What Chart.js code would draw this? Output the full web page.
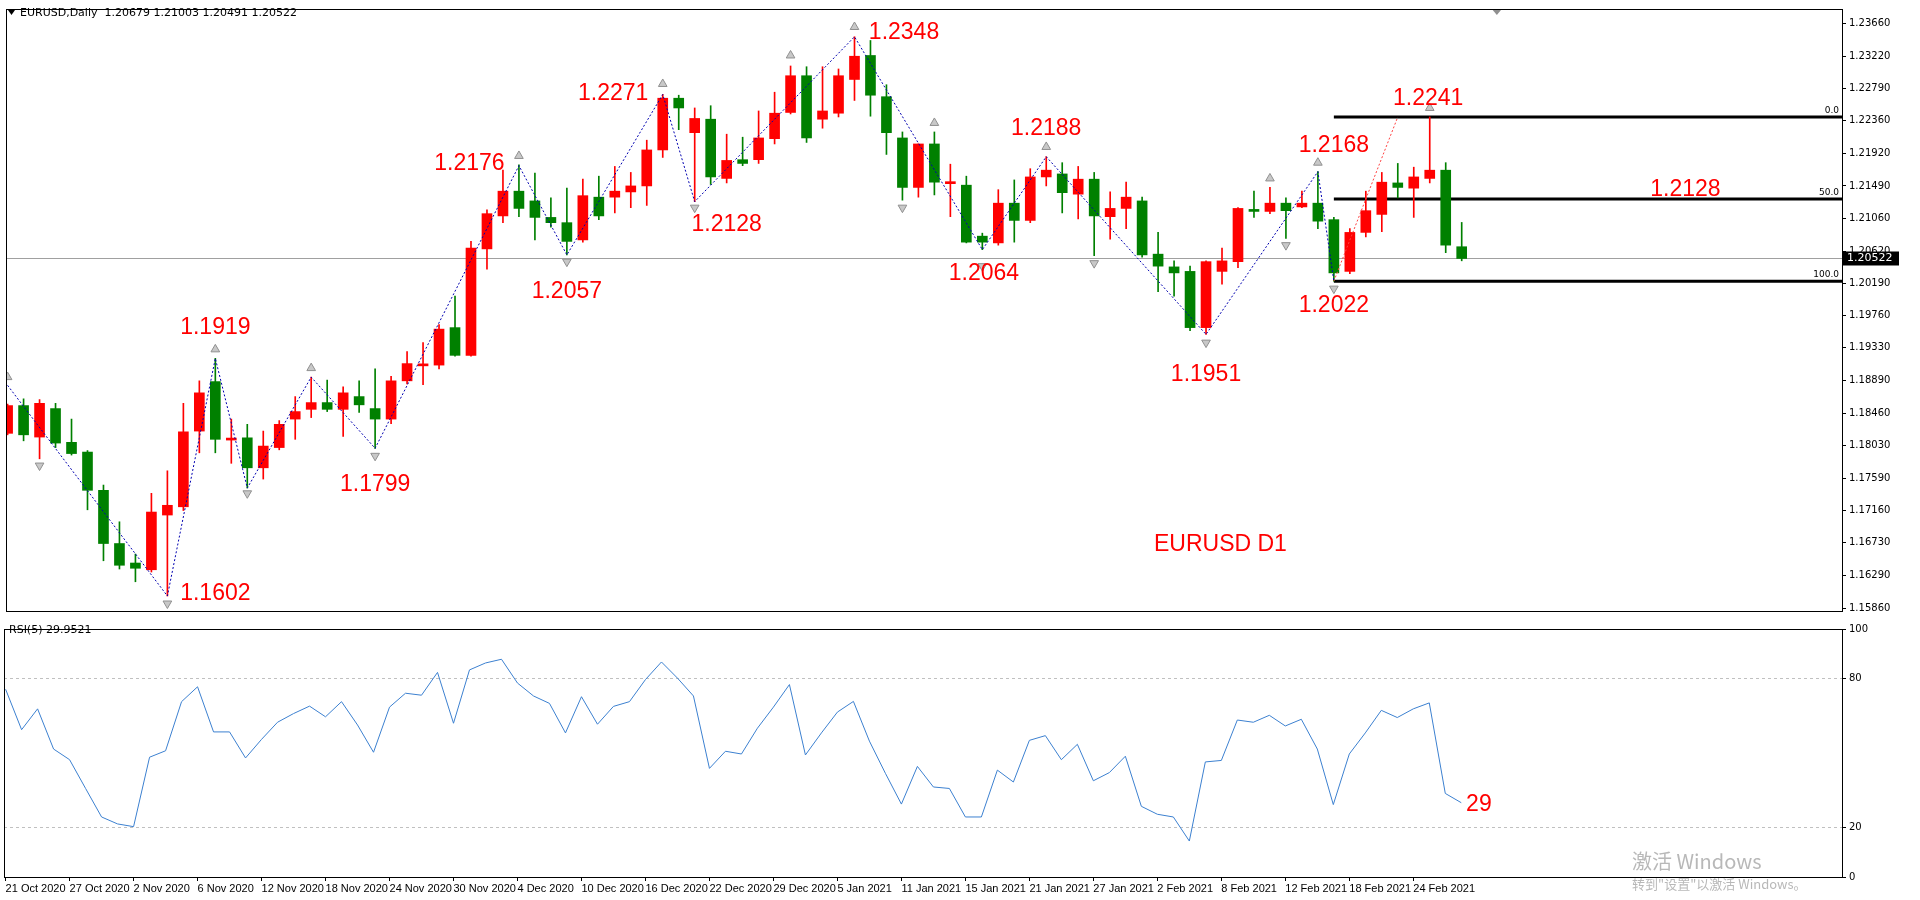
<!DOCTYPE html>
<html>
<head>
<meta charset="utf-8">
<script src="https://cdn.jsdelivr.net/npm/chart.js@4"></script>
<style>
  body { margin: 0; background: #fff; width: 1920px; height: 900px; overflow: hidden; position: relative; }
  canvas { position: absolute; left: 0; }
  #price { top: 0; }
  #rsi { top: 620px; }
  .wm { position: absolute; color: #b8b8b8; font-family: "Noto Sans CJK SC", "Liberation Sans", sans-serif; }
</style>
</head>
<body>
<canvas id="price" width="1920" height="620"></canvas>
<canvas id="rsi" width="1920" height="280"></canvas>
<div class="wm" style="left:1632px;top:846px;font-size:20px;">激活 Windows</div>
<div class="wm" style="left:1632px;top:874px;font-size:13px;">转到"设置"以激活 Windows。</div>
<script>
// daily EURUSD bars, 21 Oct 2020 .. 1 Mar 2021 (index 0..91)
const opens = [1.1819,1.1856,1.1814,1.1852,1.1807,1.1794,1.1743,1.1672,1.1646,1.1637,
  1.1710,1.1721,1.1822,1.1888,1.1810,1.1813,1.1773,1.1800,1.1838,1.1851,
  1.1860,1.1851,1.1868,1.1852,1.1838,1.1889,1.1909,1.1910,1.1960,1.1923,
  1.2065,1.2109,1.2142,1.2129,1.2107,1.2100,1.2077,1.2134,1.2134,1.2141,
  1.2149,1.2197,1.2266,1.2220,1.2238,1.2159,1.2184,1.2184,1.2212,1.2247,
  1.2296,1.2238,1.2246,1.2291,1.2323,1.2268,1.2213,1.2147,1.2205,1.2152,
  1.2150,1.2082,1.2073,1.2126,1.2103,1.2161,1.2165,1.2138,1.2158,1.2108,
  1.2119,1.2129,1.2058,1.2041,1.2035,1.1960,1.2035,1.2048,1.2116,1.2115,
  1.2126,1.2121,1.2126,1.2104,1.2035,1.2087,1.2111,1.2153,1.2146,1.2159,
  1.2170,1.20679];
const highs = [1.1858,1.1865,1.1864,1.1859,1.1838,1.1796,1.1750,1.1701,1.1658,1.1739,
  1.1769,1.1859,1.1889,1.1919,1.1838,1.1831,1.1822,1.1836,1.1868,1.1894,
  1.1890,1.1881,1.1889,1.1905,1.1895,1.1928,1.1940,1.1964,1.2002,1.2075,
  1.2117,1.2170,1.2177,1.2166,1.2133,1.2146,1.2158,1.2162,1.2175,1.2167,
  1.2210,1.2271,1.2270,1.2253,1.2256,1.2218,1.2214,1.2249,1.2274,1.2309,
  1.2308,1.2308,1.2305,1.2348,1.2343,1.2284,1.2221,1.2205,1.2221,1.2178,
  1.2162,1.2086,1.2144,1.2157,1.2172,1.2188,1.2180,1.2175,1.2167,1.2141,
  1.2154,1.2134,1.2087,1.2049,1.2042,1.2049,1.2066,1.2120,1.2142,1.2147,
  1.2133,1.2142,1.2168,1.2107,1.2092,1.2142,1.2167,1.2179,1.2174,1.2241,
  1.2180,1.21003];
const lows = [1.1817,1.1809,1.1785,1.1800,1.1790,1.1717,1.1649,1.1638,1.1621,1.1634,
  1.1602,1.1716,1.1793,1.1793,1.1779,1.1746,1.1758,1.1797,1.1811,1.1840,
  1.1848,1.1815,1.1847,1.1799,1.1832,1.1885,1.1884,1.1905,1.1922,1.1922,
  1.2038,1.2100,1.2108,1.2077,1.2094,1.2057,1.2074,1.2104,1.2113,1.2120,
  1.2123,1.2187,1.2224,1.2128,1.2151,1.2153,1.2176,1.2179,1.2205,1.2245,
  1.2207,1.2226,1.2241,1.2263,1.2242,1.2191,1.2130,1.2134,1.2137,1.2108,
  1.2073,1.2064,1.2070,1.2074,1.2100,1.2149,1.2113,1.2105,1.2056,1.2078,
  1.2092,1.2054,1.2008,1.2002,1.1956,1.1951,1.2018,1.2040,1.2107,1.2112,
  1.2079,1.2120,1.2092,1.2022,1.2032,1.2081,1.2088,1.2133,1.2107,1.2153,
  1.2060,1.20491];
const closes = [1.1856,1.1817,1.1859,1.1806,1.1792,1.1743,1.1672,1.1643,1.1639,1.1714,
  1.1723,1.1821,1.1873,1.1811,1.1812,1.1773,1.1802,1.1831,1.1848,1.1860,
  1.1851,1.1873,1.1857,1.1838,1.1889,1.1912,1.1911,1.1958,1.1923,1.2066,
  1.2112,1.2142,1.2119,1.2107,1.2100,1.2075,1.2136,1.2109,1.2142,1.2149,
  1.2197,1.2266,1.2253,1.2239,1.2161,1.2183,1.2179,1.2213,1.2246,1.2296,
  1.2213,1.2249,1.2296,1.2322,1.2270,1.2220,1.2147,1.2205,1.2154,1.2154,
  1.2074,1.2074,1.2126,1.2103,1.2161,1.2170,1.2140,1.2158,1.2109,1.2119,
  1.2134,1.2057,1.2042,1.2033,1.1960,1.2048,1.2049,1.2119,1.2115,1.2126,
  1.2116,1.2126,1.2102,1.2033,1.2087,1.2116,1.2154,1.2147,1.2161,1.2170,
  1.2070,1.20522];

const rsiValues = [75.7,59.4,67.8,51.6,47.3,35.7,24.2,21.4,20.3,48.3,
  50.9,70.7,76.7,58.5,58.5,48.0,55.5,62.4,65.9,68.9,
  64.6,70.7,61.3,50.3,68.5,74.1,73.3,82.5,62.0,83.5,
  86.3,87.8,78.2,73.0,70.0,58.1,72.7,61.6,68.8,70.7,
  79.6,86.7,80.2,73.0,43.8,50.7,49.6,60.0,68.5,77.6,
  49.2,58.1,66.5,70.8,54.8,41.8,29.4,44.6,36.3,35.7,
  24.2,24.2,43.1,38.3,55.1,57.0,47.3,53.5,38.8,42.1,
  48.7,28.5,25.3,24.2,14.5,46.4,47.0,63.3,62.4,65.2,
  60.9,63.6,51.6,29.2,49.6,58.1,67.2,64.3,67.8,70.2,
  33.7,29.95];

const dateLabels = ["21 Oct 2020","27 Oct 2020","2 Nov 2020","6 Nov 2020","12 Nov 2020","18 Nov 2020",
  "24 Nov 2020","30 Nov 2020","4 Dec 2020","10 Dec 2020","16 Dec 2020","22 Dec 2020","29 Dec 2020",
  "5 Jan 2021","11 Jan 2021","15 Jan 2021","21 Jan 2021","27 Jan 2021","2 Feb 2021","8 Feb 2021",
  "12 Feb 2021","18 Feb 2021","24 Feb 2021"];
const priceTicks = [1.23660,1.23220,1.22790,1.22360,1.21920,1.21490,1.21060,1.20620,1.20190,1.19760,
  1.19330,1.18890,1.18460,1.18030,1.17590,1.17160,1.16730,1.16290,1.15860];
const rsiTicks = [100, 80, 20, 0];

// zigzag pivots [bar, price]
const zigzag = [[0,1.1883],[10,1.1602],[13,1.1919],[15,1.1746],[19,1.1894],[23,1.1799],[32,1.2176],
  [35,1.2057],[41,1.2271],[43,1.2128],[53,1.2348],[61,1.2064],[65,1.2188],[75,1.1951],[82,1.2168],[83,1.2022]];
const zigzagLast = [[83,1.2022],[87,1.2241]];
const fractalUp = [[0,1.1894],[13,1.1931],[19,1.1906],[32,1.2189],[41,1.2285],[49,1.2323],[53,1.2361],
  [58,1.2233],[65,1.2201],[79,1.2159],[82,1.2180],[89,1.2253]];
const fractalDown = [[2,1.1776],[10,1.1592],[15,1.1739],[23,1.1789],[35,1.2048],[43,1.2120],[56,1.2120],
  [61,1.2042],[68,1.2046],[75,1.1940],[80,1.2070],[83,1.2012]];

// red annotation texts [text, bar, price]
const pivotLabels = [["1.1919",13,1.1960],["1.1602",13,1.1605],["1.1799",23,1.1750],["1.2176",28.9,1.2179],
  ["1.2057",35,1.2008],["1.2271",37.9,1.2272],["1.2128",45,1.2098],["1.2348",56.1,1.2354],
  ["1.2064",61.1,1.2032],["1.2188",65,1.2226],["1.2168",83,1.2203],["1.1951",75,1.1897],
  ["1.2022",83,1.1989],["1.2241",88.9,1.2266],["1.2128",105,1.2144],["EURUSD D1",75.9,1.1671]];
const fibLevels = [["0.0",1.2241],["50.0",1.21315],["100.0",1.2022]];
const fibStart = 83;
const lastPrice = 1.20522;

const idx = closes.map((_, i) => i);
const up = idx.map(i => closes[i] >= opens[i]);
const candleColors = up.map(u => u ? "#ff0000" : "#008000");
const X_MIN = -0.1, X_MAX = 114.8;

const frame = {
  id: "frame",
  afterDraw(chart) {
    const { ctx, chartArea: a } = chart;
    ctx.save();
    ctx.strokeStyle = "#000";
    ctx.lineWidth = 1;
    ctx.strokeRect(a.left + 0.5, a.top + 0.5, a.right - a.left, a.bottom - a.top);
    ctx.restore();
  }
};

const priceExtras = {
  id: "priceExtras",
  beforeDatasetsDraw(chart) {
    const { ctx, chartArea: a, scales: { x, y } } = chart;
    ctx.save();
    // current price line
    ctx.strokeStyle = "#a0a0a0";
    ctx.lineWidth = 1;
    const py = Math.round(y.getPixelForValue(lastPrice)) + 0.5;
    ctx.beginPath(); ctx.moveTo(a.left, py); ctx.lineTo(a.right, py); ctx.stroke();
    // fibo levels
    ctx.strokeStyle = "#000";
    ctx.lineWidth = 3;
    ctx.font = '9px "DejaVu Sans"';
    ctx.fillStyle = "#000";
    ctx.textAlign = "right";
    ctx.textBaseline = "bottom";
    fibLevels.forEach(([t, v]) => {
      const ly = y.getPixelForValue(v);
      ctx.beginPath(); ctx.moveTo(x.getPixelForValue(fibStart), ly); ctx.lineTo(a.right, ly); ctx.stroke();
      ctx.fillText(t, a.right - 3, ly - 2);
    });
    ctx.restore();
  },
  afterDraw(chart) {
    const { ctx, chartArea: a, scales: { x, y } } = chart;
    ctx.save();
    ctx.fillStyle = "#ff0000";
    ctx.font = '23px "Liberation Sans"';
    ctx.textAlign = "center";
    ctx.textBaseline = "middle";
    pivotLabels.forEach(([t, b, v]) => ctx.fillText(t, x.getPixelForValue(b), y.getPixelForValue(v)));
    // header
    ctx.fillStyle = "#000";
    ctx.font = '11px "DejaVu Sans"';
    ctx.textAlign = "left";
    ctx.fillText("EURUSD,Daily  1.20679 1.21003 1.20491 1.20522", 20, 13);
    ctx.beginPath(); ctx.moveTo(8, 10); ctx.lineTo(15, 10); ctx.lineTo(11.5, 15); ctx.fill();
    // chart shift marker
    const sx = x.getPixelForValue(93.2);
    ctx.fillStyle = "#909090";
    ctx.beginPath(); ctx.moveTo(sx - 5, a.top); ctx.lineTo(sx + 5, a.top); ctx.lineTo(sx, a.top + 6); ctx.fill();
    // last price tag
    const py = y.getPixelForValue(lastPrice);
    ctx.fillStyle = "#000";
    ctx.fillRect(a.right + 1, py - 7, 56, 14);
    ctx.fillStyle = "#fff";
    ctx.fillText("1.20522", a.right + 5, py);
    ctx.restore();
  }
};

new Chart(document.getElementById("price"), {
  type: "bar",
  data: {
    datasets: [
      {
        label: "wicks",
        data: idx.map(i => ({ x: i, y: [lows[i], highs[i]] })),
        backgroundColor: candleColors,
        barThickness: 1,
        grouped: false,
        order: 2,
      },
      {
        label: "bodies",
        data: idx.map(i => ({ x: i, y: [Math.min(opens[i], closes[i]), Math.max(opens[i], closes[i])] })),
        backgroundColor: candleColors,
        barThickness: 10,
        minBarLength: 2,
        grouped: false,
        order: 1,
      },
      {
        type: "line",
        label: "zigzag",
        data: zigzag.map(([b, v]) => ({ x: b, y: v })),
        borderColor: "#0000b0",
        borderWidth: 1,
        borderDash: [2, 2],
        pointRadius: 0,
        order: 0,
      },
      {
        type: "line",
        label: "zigzag last",
        data: zigzagLast.map(([b, v]) => ({ x: b, y: v })),
        borderColor: "#ff4040",
        borderWidth: 1,
        borderDash: [2, 2],
        pointRadius: 0,
        order: 0,
      },
      {
        type: "line",
        label: "fractal up",
        data: fractalUp.map(([b, v]) => ({ x: b, y: v })),
        showLine: false,
        pointStyle: "triangle",
        pointRadius: 5,
        backgroundColor: "#c8c8c8",
        borderColor: "#909090",
        borderWidth: 1,
        order: 0,
      },
      {
        type: "line",
        label: "fractal down",
        data: fractalDown.map(([b, v]) => ({ x: b, y: v })),
        showLine: false,
        pointStyle: "triangle",
        rotation: 180,
        pointRadius: 5,
        backgroundColor: "#c8c8c8",
        borderColor: "#909090",
        borderWidth: 1,
        order: 0,
      },
    ],
  },
  options: {
    responsive: false,
    animation: false,
    devicePixelRatio: 1,
    layout: { padding: { left: 4, top: 6, right: 0, bottom: 2 } },
    plugins: { legend: { display: false }, tooltip: { enabled: false } },
    scales: {
      x: { type: "linear", min: X_MIN, max: X_MAX, offset: false, display: false },
      y: {
        position: "right",
        min: 1.1582,
        max: 1.2385,
        afterFit: s => { s.width = 78; },
        afterBuildTicks: s => { s.ticks = priceTicks.map(v => ({ value: v })); },
        ticks: { callback: v => v.toFixed(5), color: "#000", font: { family: "DejaVu Sans", size: 10 }, padding: 3 },
        grid: { drawOnChartArea: false, tickLength: 4, color: "#000" },
        border: { color: "#000" },
      },
    },
  },
  plugins: [priceExtras, frame],
});

const rsiExtras = {
  id: "rsiExtras",
  afterDraw(chart) {
    const { ctx, scales: { x, y } } = chart;
    ctx.save();
    ctx.fillStyle = "#000";
    ctx.font = '11px "DejaVu Sans"';
    ctx.textBaseline = "middle";
    ctx.fillText("RSI(5) 29.9521", 9, 10);
    ctx.fillStyle = "#ff0000";
    ctx.font = '23px "Liberation Sans"';
    ctx.textAlign = "center";
    ctx.fillText("29", x.getPixelForValue(92.1), y.getPixelForValue(29.3));
    ctx.restore();
  }
};

new Chart(document.getElementById("rsi"), {
  type: "line",
  data: {
    datasets: [{
      label: "RSI(5)",
      data: idx.map(i => ({ x: i, y: rsiValues[i] })),
      borderColor: "#3c80d0",
      borderWidth: 1,
      pointRadius: 0,
      tension: 0,
    }],
  },
  options: {
    responsive: false,
    animation: false,
    devicePixelRatio: 1,
    layout: { padding: { left: 4, top: 1, right: 0, bottom: 0 } },
    plugins: { legend: { display: false }, tooltip: { enabled: false } },
    scales: {
      x: {
        type: "linear",
        min: X_MIN,
        max: X_MAX,
        afterFit: s => { s.height = 23; },
        afterBuildTicks: s => { s.ticks = dateLabels.map((_, k) => ({ value: k * 4 })); },
        ticks: {
          callback: v => dateLabels[v / 4],
          align: "start",
          maxRotation: 0,
          autoSkip: false,
          color: "#000",
          font: { family: "Liberation Sans", size: 11 },
          padding: 1,
        },
        grid: { drawOnChartArea: false, tickLength: 4, color: "#000" },
        border: { color: "#000" },
      },
      y: {
        position: "right",
        min: 0,
        max: 100,
        afterFit: s => { s.width = 78; },
        afterBuildTicks: s => { s.ticks = rsiTicks.map(v => ({ value: v })); },
        ticks: { color: "#000", font: { family: "DejaVu Sans", size: 10 }, padding: 3 },
        grid: {
          color: c => (c.tick && (c.tick.value === 80 || c.tick.value === 20)) ? "#c0c0c0" : "rgba(0,0,0,0)",
          tickColor: "#000",
          tickLength: 4,
        },
        border: { color: "#000", dash: [3, 3] },
      },
    },
  },
  plugins: [rsiExtras, frame],
});
</script>
</body>
</html>
